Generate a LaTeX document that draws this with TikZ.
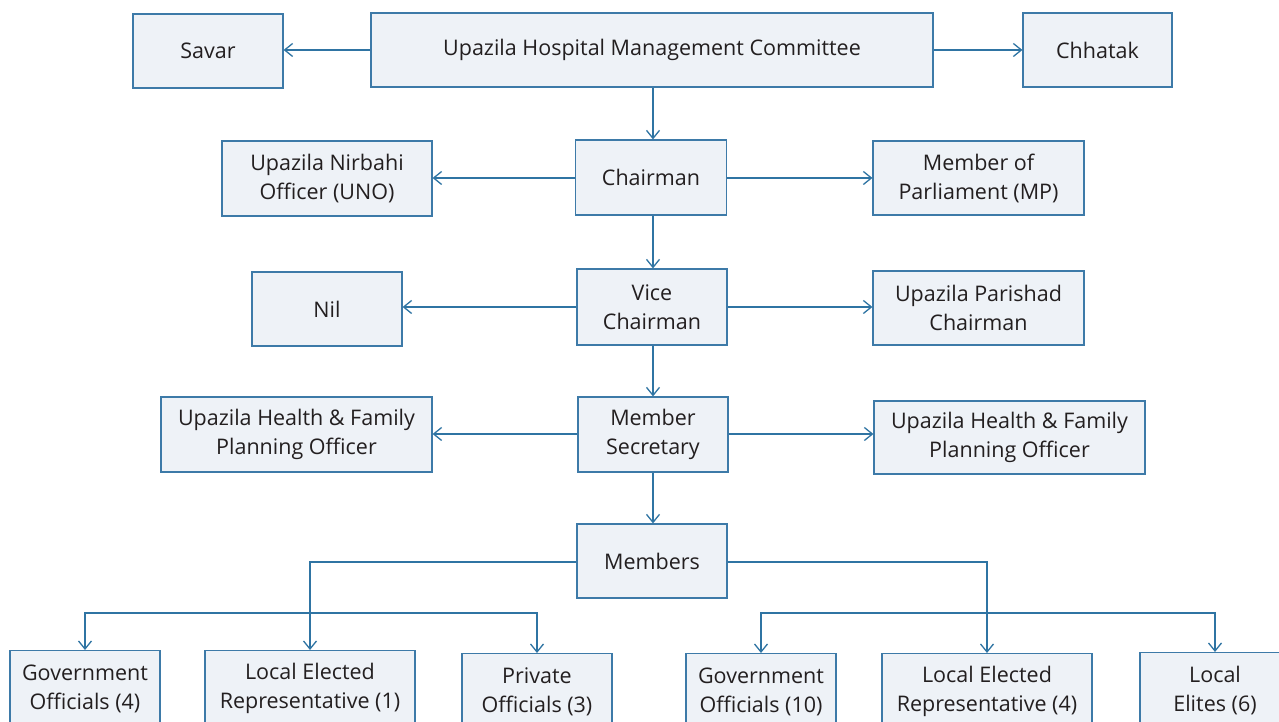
\documentclass[tikz,border=0pt]{standalone}
\usepackage{fontspec}
\setmainfont{Open Sans}
\usetikzlibrary{arrows.meta,calc}
\definecolor{boxfill}{HTML}{EEF2F7}
\definecolor{boxline}{HTML}{3D7AA8}
\definecolor{arrline}{HTML}{2F74A3}
\definecolor{txt}{HTML}{231F20}
\begin{document}
\begin{tikzpicture}[x=1pt,y=1pt,
  box/.style={draw=boxline, fill=boxfill, line width=1.2pt, inner sep=0pt,
    align=center, text=txt, font=\fontsize{21.5}{29}\selectfont},
  arr/.style={draw=arrline, line width=1.3pt, -{Straight Barb[length=8pt,width=13pt,line width=1.3pt]}},
  ln/.style={draw=arrline, line width=1.3pt}]
\useasboundingbox (0,0) rectangle (1279,722);
\fill[white] (0,0) rectangle (1279,722);
% row 1
\node[box, minimum width=150pt, minimum height=74pt] (savar) at (208,671) {Savar};
\node[box, minimum width=562pt, minimum height=74pt] (uhmc) at (652,672) {Upazila Hospital Management Committee};
\node[box, minimum width=149pt, minimum height=74pt] (chhatak) at (1097.5,672) {Chhatak};
% row 2
\node[box, minimum width=210pt, minimum height=75pt] (uno) at (327,543.5) {Upazila Nirbahi\\Officer (UNO)};
\node[box, minimum width=151pt, minimum height=75pt] (chair) at (651,544.5) {Chairman};
\node[box, minimum width=211pt, minimum height=74pt] (mp) at (978.5,544) {Member of\\Parliament (MP)};
% row 3
\node[box, minimum width=150pt, minimum height=74pt] (nil) at (327,413) {Nil};
\node[box, minimum width=150pt, minimum height=76pt] (vice) at (652,415) {Vice\\Chairman};
\node[box, minimum width=211pt, minimum height=74pt] (upc) at (978.5,414) {Upazila Parishad\\Chairman};
% row 4
\node[box, minimum width=271pt, minimum height=75pt] (hfl) at (296.5,287.5) {Upazila Health \& Family\\Planning Officer};
\node[box, minimum width=150pt, minimum height=75pt] (ms) at (653,287.5) {Member\\Secretary};
\node[box, minimum width=271pt, minimum height=73pt] (hfr) at (1009.5,284.5) {Upazila Health \& Family\\Planning Officer};
% members
\node[box, minimum width=150pt, minimum height=74pt] (members) at (652,161) {Members};
% bottom row
\node[box, anchor=north, minimum width=150pt, minimum height=76pt] (go4) at (85,72) {Government\\Officials (4)};
\node[box, anchor=north, minimum width=210pt, minimum height=76pt] (ler1) at (310,72) {Local Elected\\Representative (1)};
\node[box, anchor=north, minimum width=150pt, minimum height=76pt] (po3) at (537,69) {Private\\Officials (3)};
\node[box, anchor=north, minimum width=150pt, minimum height=76pt] (go10) at (761,69) {Government\\Officials (10)};
\node[box, anchor=north, minimum width=210pt, minimum height=76pt] (ler4) at (987,69) {Local Elected\\Representative (4)};
\node[box, anchor=north, minimum width=150pt, minimum height=76pt] (elites) at (1215,70) {Local\\Elites (6)};
% vertical spine
\coordinate (sp) at (653,0);
\draw[arr] (uhmc.south -| sp) -- (chair.north -| sp);
\draw[arr] (chair.south -| sp) -- (vice.north -| sp);
\draw[arr] (vice.south -| sp) -- (ms.north -| sp);
\draw[arr] (ms.south -| sp) -- (members.north -| sp);
% horizontals
\draw[arr] (uhmc.west) -- (uhmc.west -| savar.east);
\draw[arr] (uhmc.east) -- (uhmc.east -| chhatak.west);
\draw[arr] ([yshift=-0.5pt]chair.west) -- ([yshift=-0.5pt]chair.west -| uno.east);
\draw[arr] ([yshift=-0.5pt]chair.east) -- ([yshift=-0.5pt]chair.east -| mp.west);
\draw[arr] (vice.west) -- (vice.west -| nil.east);
\draw[arr] (vice.east) -- (vice.east -| upc.west);
\draw[arr] ([yshift=0.5pt]ms.west) -- ([yshift=0.5pt]ms.west -| hfl.east);
\draw[arr] ([yshift=0.5pt]ms.east) -- ([yshift=0.5pt]ms.east -| hfr.west);
% members branches
\coordinate (busL) at (310,109);
\coordinate (busR) at (986,109);
\draw[arr] ([yshift=-1pt]members.west) -| (ler1.north);
\draw[arr] (busL) -| (go4.north);
\draw[arr] (busL) -| (po3.north);
\draw[arr] ([yshift=-1pt]members.east) -| (ler4.north);
\draw[arr] (busR) -| (go10.north);
\draw[arr] (busR) -| (elites.north);
\end{tikzpicture}
\end{document}
